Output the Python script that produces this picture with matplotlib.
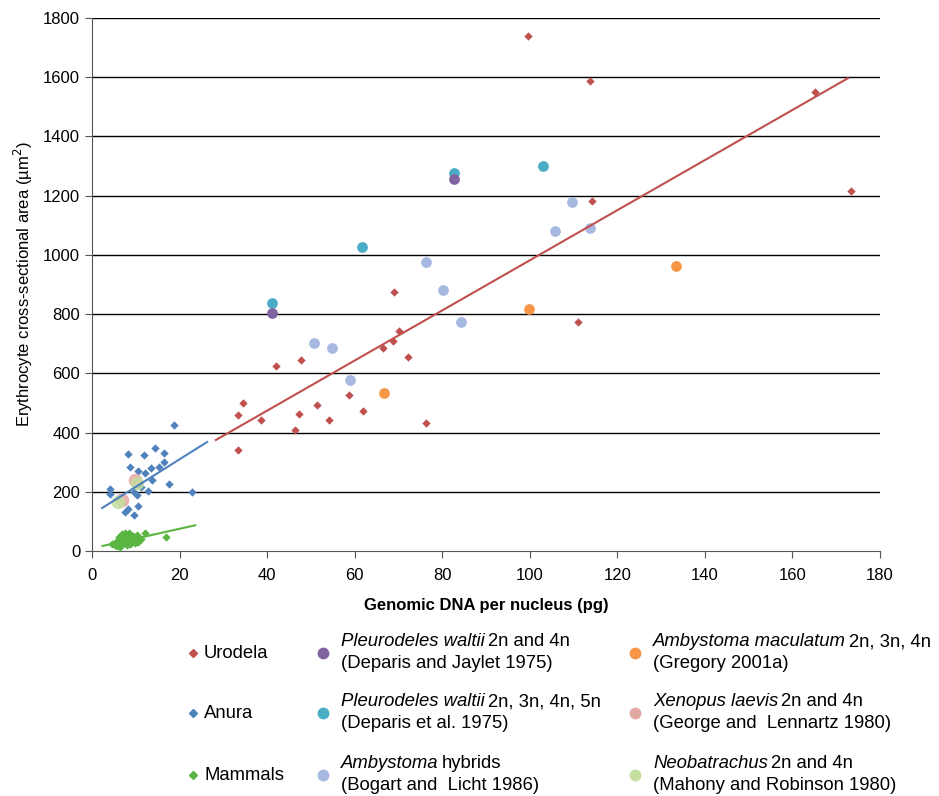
import numpy as np
import matplotlib.pyplot as plt

plt.rcParams['font.family'] = ['Liberation Sans', 'DejaVu Sans']

# Urodela (red diamonds)
uro_x = [99.6, 113.8, 165.1, 173.4, 114.2, 111.0, 69.0, 70.1, 68.7, 66.5, 72.2, 47.8,
         42.0, 58.6, 34.6, 33.3, 51.3, 47.4, 38.7, 54.1, 61.8, 46.4, 76.2, 33.3]
uro_y = [1739, 1587, 1550, 1216, 1182, 773, 875, 743, 709, 684, 655, 645,
         625, 527, 499, 460, 492, 464, 441, 441, 473, 408, 431, 340]

# Anura (blue diamonds)
anu_x = [18.7, 8.2, 11.9, 14.4, 16.5, 8.6, 10.6, 12.1, 13.4, 15.3, 16.5, 13.8,
         17.6, 22.8, 4.2, 4.0, 9.7, 10.3, 12.7, 10.4, 8.3, 7.5, 9.5, 6.2, 11.2]
anu_y = [425, 327, 324, 347, 332, 285, 270, 262, 279, 283, 302, 239,
         227, 198, 209, 194, 200, 189, 203, 153, 142, 131, 122, 180, 215]

# Mammals (green diamonds)
mam_x = [4.5, 5.0, 5.5, 5.8, 6.0, 6.2, 6.5, 6.7, 7.0, 7.2, 7.4, 7.6, 7.8, 8.0,
         8.2, 8.4, 8.6, 8.8, 9.0, 9.3, 9.6, 10.0, 10.4, 10.8, 6.3, 6.9, 7.5,
         8.1, 8.7, 9.2, 5.2, 6.1, 7.1, 7.9, 8.5, 9.8, 12.0, 16.8, 11.3, 10.2]
mam_y = [22, 25, 30, 18, 35, 28, 42, 20, 38, 50, 30, 45, 25, 55, 40, 60, 32,
         48, 27, 52, 35, 44, 30, 38, 15, 58, 62, 20, 24, 40, 20, 48, 26, 36,
         52, 28, 62, 46, 42, 55]

# circle series
pw4_x = [41.1, 82.7]
pw4_y = [804, 1256]
pw5_x = [41.1, 82.7, 61.7, 103.0]
pw5_y = [837, 1277, 1027, 1300]
amh_x = [50.7, 54.8, 58.9, 76.3, 80.2, 84.3, 105.8, 109.7, 113.8]
amh_y = [702, 686, 578, 976, 881, 773, 1081, 1179, 1091]
amm_x = [66.7, 99.8, 133.4]
amm_y = [534, 817, 962]
xen_x = [9.8, 6.8]
xen_y = [239, 172]
neo_x = [10.3, 5.9]
neo_y = [229, 164]

# trend lines: (slope, intercept, x start, x end)
uro_fit = (8.46, 135.5, 28.3, 172.7)
anu_fit = (9.3, 123.6, 2.3, 26.3)
mam_fit = (3.3, 9.0, 2.4, 23.6)

red = '#c0504d'
blue = '#4f81bd'
green = '#5ab543'
purple = '#8064a2'
teal = '#4bacc6'
orange = '#f79646'
lblue = '#a7b9e1'
pink = '#e3a7a4'
lgreen = '#c4df9f'

fig = plt.figure(figsize=(9.39, 7.96), dpi=100)
ax = fig.add_axes([0.098, 0.3078, 0.839, 0.6696])

for y in range(200, 1801, 200):
    ax.axhline(y, color='black', lw=1, zorder=0)

dsize = 18
ax.scatter(uro_x, uro_y, marker='D', s=dsize, color=red, lw=0, zorder=3)
ax.scatter(anu_x, anu_y, marker='D', s=dsize, color=blue, lw=0, zorder=3)
ax.scatter(mam_x, mam_y, marker='D', s=dsize, color=green, lw=0, zorder=3)

csize = 60
ax.scatter(pw5_x, pw5_y, s=csize, color=teal, lw=0, zorder=4)
ax.scatter(pw4_x, pw4_y, s=csize, color=purple, lw=0, zorder=4)
ax.scatter(amh_x, amh_y, s=csize, color=lblue, lw=0, zorder=4)
ax.scatter(amm_x, amm_y, s=csize, color=orange, lw=0, zorder=4)
ax.scatter(xen_x, xen_y, s=csize * 1.6, color=pink, lw=0, zorder=4, alpha=0.85)
ax.scatter(neo_x, neo_y, s=csize * 1.6, color=lgreen, lw=0, zorder=5, alpha=0.85)

for fit, c in [(uro_fit, red), (anu_fit, blue), (mam_fit, green)]:
    xs = np.array([fit[2], fit[3]])
    ax.plot(xs, fit[0] * xs + fit[1], color=c, lw=1.5, zorder=6)

ax.set_xlim(0, 180)
ax.set_ylim(0, 1800)
ax.set_xticks(range(0, 181, 20))
ax.set_yticks(range(0, 1801, 200))
ax.spines['top'].set_visible(False)
ax.spines['right'].set_visible(False)
ax.spines['left'].set_color('#555555')
ax.spines['bottom'].set_color('#555555')
ax.tick_params(labelsize=12, length=5, color='#555555')
ax.tick_params(axis='x', pad=7)
ax.set_xlabel('Genomic DNA per nucleus (pg)', fontsize=12, fontweight='bold', labelpad=11)
ax.set_ylabel('Erythrocyte cross-sectional area (\u00b5m$^2$)', fontsize=12, labelpad=6)

# legend drawn as figure text
W, H = 939, 796
fs = 13.3


def fx(px):
    return px / W


def fy(py):
    return 1 - py / H


simple = [('Urodela', red, 653), ('Anura', blue, 713), ('Mammals', green, 775)]
for lab, c, py in simple:
    fig.lines.append(plt.Line2D([fx(193)], [fy(py)], marker='D', ms=4, color=c,
                                lw=0, transform=fig.transFigure))
    fig.text(fx(204), fy(py), lab, fontsize=fs, va='center')

entries = [
    (323, 341, 653, purple, 'Pleurodeles waltii', '2n and 4n', '(Deparis and Jaylet 1975)'),
    (323, 341, 713, teal, 'Pleurodeles waltii', '2n, 3n, 4n, 5n', '(Deparis et al. 1975)'),
    (323, 341, 775, lblue, 'Ambystoma', 'hybrids', '(Bogart and  Licht 1986)'),
    (635, 653, 653, orange, 'Ambystoma maculatum', '2n, 3n, 4n', '(Gregory 2001a)'),
    (635, 653, 713, pink, 'Xenopus laevis', '2n and 4n', '(George and  Lennartz 1980)'),
    (635, 653, 775, lgreen, 'Neobatrachus', '2n and 4n', '(Mahony and Robinson 1980)'),
]
fig.canvas.draw()
renderer = fig.canvas.get_renderer()
for mx, tx, py, c, ital, rest, ref in entries:
    fig.lines.append(plt.Line2D([fx(mx)], [fy(py)], marker='o', ms=7.5, color=c,
                                lw=0, transform=fig.transFigure))
    t = fig.text(fx(tx), fy(py - 11), ital, fontsize=fs, style='italic', va='center')
    bb = t.get_window_extent(renderer)
    fig.text((bb.x1 + 3) / fig.bbox.width, fy(py - 11), rest, fontsize=fs, va='center')
    fig.text(fx(tx), fy(py + 11), ref, fontsize=fs, va='center')

fig.savefig('out.png', dpi=100)
